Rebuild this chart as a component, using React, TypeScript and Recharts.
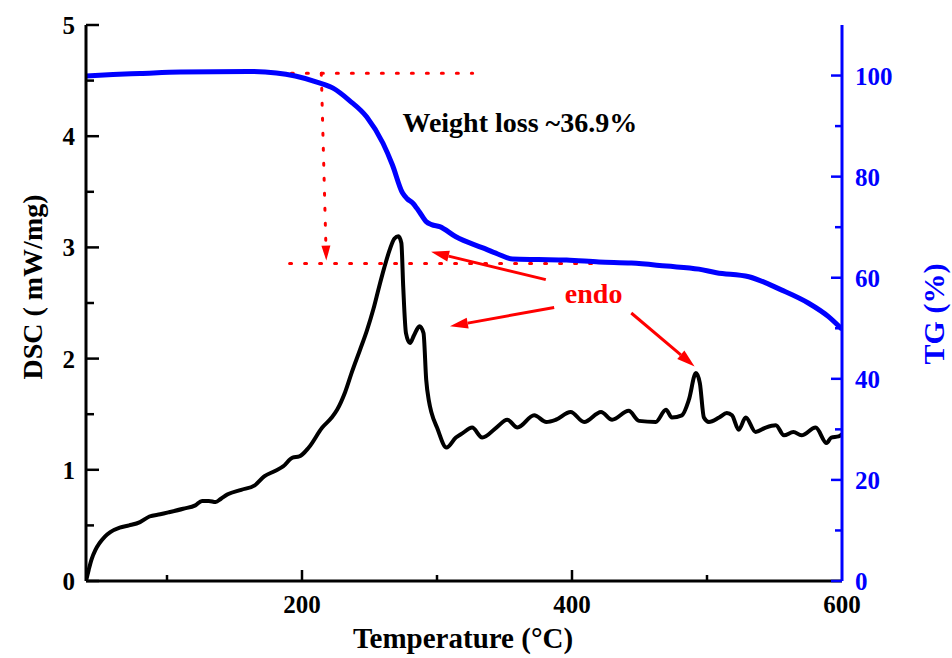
import React from "react";
import {
  LineChart,
  Line,
  XAxis,
  YAxis,
  ReferenceLine,
  ReferenceDot,
} from "recharts";

// DSC curve (temperature °C, mW/mg)
const dscTemp = [
  40, 42, 44, 47, 50, 54, 58, 65, 72, 80, 87, 95, 102, 112, 121, 126, 131, 136, 140, 145,
  155, 165, 172, 180, 186, 193, 198, 205, 215, 222, 226, 232, 237, 243, 248, 253, 257, 261,
  265, 268.5, 271.4, 273.6, 275, 277, 280, 283, 287, 290, 292, 294, 296, 300, 307, 314, 319,
  326, 333.5, 344, 352, 359.6, 372, 381, 388, 399, 409, 421.5, 429.7, 442, 449.6, 462, 469.6,
  474, 481.4, 486.6, 491.8, 494.7, 497.7, 501.4, 509, 514.7, 518.5, 523.5, 528.7, 536, 543.5,
  551, 557, 564, 570, 580.5, 588.6, 592, 597.5, 600,
];
const dscValue = [
  0.0, 0.1, 0.19, 0.28, 0.34, 0.4, 0.44, 0.48, 0.5, 0.53, 0.58, 0.6, 0.62, 0.65, 0.68, 0.72,
  0.72, 0.71, 0.74, 0.78, 0.82, 0.86, 0.94, 0.99, 1.03, 1.11, 1.12, 1.2, 1.38, 1.47, 1.54,
  1.7, 1.88, 2.08, 2.25, 2.45, 2.64, 2.82, 2.98, 3.08, 3.1, 3.04, 2.64, 2.23, 2.14, 2.21, 2.29,
  2.23, 1.81, 1.62, 1.51, 1.38, 1.2, 1.29, 1.33, 1.38, 1.29, 1.38, 1.45, 1.38, 1.49, 1.43,
  1.45, 1.52, 1.43, 1.52, 1.45, 1.53, 1.44, 1.43, 1.54, 1.47, 1.49, 1.63, 1.87, 1.78, 1.47,
  1.43, 1.47, 1.51, 1.49, 1.36, 1.47, 1.34, 1.38, 1.4, 1.31, 1.34, 1.31, 1.38, 1.24, 1.29,
  1.3, 1.32,
];

// TG curve (temperature °C, %)
const tgTemp = [
  40, 60, 80, 110, 160, 181, 195, 211, 223, 235, 248, 260, 267, 274.4, 278, 282, 287, 292,
  296, 302, 314, 334, 345, 356, 375, 396, 420, 444, 470, 494, 507, 531, 555, 575, 590, 600,
];
const tgValue = [
  99.9, 100.2, 100.4, 100.7, 100.8, 100.5, 99.9, 98.7, 97.5, 95.1, 91.8, 86.6, 82.3, 76.8,
  75.6, 74.8, 73.0, 71.1, 70.5, 70.1, 68.1, 65.9, 64.7, 63.7, 63.6, 63.5, 63.1, 62.9, 62.3,
  61.7, 61.0, 60.2, 57.6, 55.0, 52.3, 49.8,
];

const xTicks = [100, 200, 300, 400, 500, 600];
const xLabels = [200, 400, 600];
const dscTicks = [0, 0.5, 1, 1.5, 2, 2.5, 3, 3.5, 4, 4.5, 5];
const tgTicks = [0, 10, 20, 30, 40, 50, 60, 70, 80, 90, 100];
const tgLabels = [0, 20, 40, 60, 80, 100];

// annotation arrows on the DSC axis: [x1, y1, x2, y2]
const endoArrows = [
  [380.6, 2.71, 295.6, 2.96],
  [386.8, 2.46, 309.6, 2.29],
  [443.9, 2.41, 490.8, 1.93],
];
// dotted guide lines on the TG axis
const guideTop = [181, 100.45, 326.4, 100.45];
const guideBottom = [190.8, 62.8, 423.7, 62.8];
const guideDrop = [214.3, 100.45, 218, 63.4];

const dscData = dscTemp.map((t, i) => ({ t, v: dscValue[i] }));
const tgData = tgTemp.map((t, i) => ({ t, v: tgValue[i] }));

const FONT = "'Liberation Serif', 'Times New Roman', serif";
const RED = "#FF0000";
const BLUE = "#0000FF";

const LeftTick = (props: any) => {
  const { x, y, payload } = props;
  const v = payload.value;
  const major = Number.isInteger(v);
  return (
    <g>
      <line x1={x} x2={x + (major ? 13 : 8)} y1={y} y2={y} stroke="#000" strokeWidth={2.5} />
      {major && (
        <text x={x - 11} y={y} dy={9} textAnchor="end" fontFamily={FONT} fontWeight="bold" fontSize={25} fill="#000">
          {v}
        </text>
      )}
    </g>
  );
};

const RightTick = (props: any) => {
  const { x, y, payload } = props;
  const v = payload.value;
  const major = tgLabels.includes(v);
  return (
    <g>
      <line x1={x} x2={x - (major ? 11 : 7)} y1={y} y2={y} stroke={BLUE} strokeWidth={2.5} />
      {major && (
        <text x={x + 13} y={y} dy={9} textAnchor="start" fontFamily={FONT} fontWeight="bold" fontSize={25} fill={BLUE}>
          {v}
        </text>
      )}
    </g>
  );
};

const BottomTick = (props: any) => {
  const { x, y, payload } = props;
  const v = payload.value;
  const major = xLabels.includes(v);
  return (
    <g>
      {v !== 600 && (
        <line x1={x} x2={x} y1={y} y2={y - (major ? 11 : 6)} stroke="#000" strokeWidth={2.5} />
      )}
      {major && (
        <text x={x} y={y + 32} textAnchor="middle" fontFamily={FONT} fontWeight="bold" fontSize={25} fill="#000">
          {v}
        </text>
      )}
    </g>
  );
};

const arrowShape = (head: number, headW: number, width: number, dash?: string) => (p: any) => {
  const { x1, y1, x2, y2 } = p;
  const ang = Math.atan2(y2 - y1, x2 - x1);
  const bx = x2 - head * Math.cos(ang);
  const by = y2 - head * Math.sin(ang);
  const px = (-Math.sin(ang) * headW) / 2;
  const py = (Math.cos(ang) * headW) / 2;
  return (
    <g>
      <line
        x1={x1}
        y1={y1}
        x2={bx}
        y2={by}
        stroke={RED}
        strokeWidth={width}
        strokeDasharray={dash}
        strokeLinecap={dash ? "round" : "butt"}
      />
      <polygon points={`${x2},${y2} ${bx + px},${by + py} ${bx - px},${by - py}`} fill={RED} />
    </g>
  );
};

export default function App() {
  return (
    <div style={{ position: "absolute", left: 0, top: 0, background: "#fff" }}>
      <LineChart width={952} height={658} margin={{ top: 25, right: 0, bottom: 0, left: 0 }}>
        <XAxis
          dataKey="t"
          type="number"
          domain={[40, 600]}
          ticks={xTicks}
          interval={0}
          height={77}
          tickSize={0}
          tickMargin={0}
          tickLine={false}
          tick={<BottomTick />}
          axisLine={{ stroke: "#000", strokeWidth: 3 }}
          allowDataOverflow
          label={{
            content: () => (
              <text x={463} y={648} textAnchor="middle" fontFamily={FONT} fontWeight="bold" fontSize={29} fill="#000">
                Temperature (°C)
              </text>
            ),
          }}
        />
        <XAxis
          xAxisId="top"
          dataKey="t"
          type="number"
          orientation="top"
          domain={[40, 600]}
          height={0}
          tick={false}
          tickLine={false}
          axisLine={{ stroke: "#000", strokeWidth: 3 }}
          allowDataOverflow
        />
        <YAxis
          yAxisId="dsc"
          type="number"
          domain={[0, 5]}
          ticks={dscTicks}
          interval={0}
          width={86}
          tickSize={0}
          tickMargin={0}
          tickLine={false}
          tick={<LeftTick />}
          axisLine={{ stroke: "#000", strokeWidth: 3 }}
          allowDataOverflow
          label={{
            content: () => (
              <text
                x={42}
                y={287}
                textAnchor="middle"
                transform="rotate(-90 42 287)"
                fontFamily={FONT}
                fontWeight="bold"
                fontSize={28}
                fill="#000"
              >
                DSC ( mW/mg)
              </text>
            ),
          }}
        />
        <YAxis
          yAxisId="tg"
          orientation="right"
          type="number"
          domain={[0, 110]}
          ticks={tgTicks}
          interval={0}
          width={110}
          tickSize={0}
          tickMargin={0}
          tickLine={false}
          tick={<RightTick />}
          axisLine={{ stroke: BLUE, strokeWidth: 3 }}
          allowDataOverflow
          label={{
            content: () => (
              <text
                x={944}
                y={314}
                textAnchor="middle"
                transform="rotate(-90 944 314)"
                fontFamily={FONT}
                fontWeight="bold"
                fontSize={30}
                fill={BLUE}
              >
                TG (%)
              </text>
            ),
          }}
        />

        <ReferenceLine
          yAxisId="tg"
          segment={[{ x: guideTop[0], y: guideTop[1] }, { x: guideTop[2], y: guideTop[3] }]}
          stroke={RED}
          strokeWidth={3}
          strokeDasharray="2 13"
          strokeLinecap="round"
        />
        <ReferenceLine
          yAxisId="tg"
          segment={[{ x: guideBottom[0], y: guideBottom[1] }, { x: guideBottom[2], y: guideBottom[3] }]}
          stroke={RED}
          strokeWidth={3}
          strokeDasharray="2 13"
          strokeLinecap="round"
        />
        <ReferenceLine
          yAxisId="tg"
          segment={[{ x: guideDrop[0], y: guideDrop[1] }, { x: guideDrop[2], y: guideDrop[3] }]}
          shape={arrowShape(15, 9, 3, "2 13")}
        />

        <Line
          yAxisId="tg"
          data={tgData}
          dataKey="v"
          type="monotone"
          stroke={BLUE}
          strokeWidth={5}
          dot={false}
          activeDot={false}
          isAnimationActive={false}
        />
        <Line
          yAxisId="dsc"
          data={dscData}
          dataKey="v"
          type="monotone"
          stroke="#000"
          strokeWidth={4}
          dot={false}
          activeDot={false}
          isAnimationActive={false}
        />

        {endoArrows.map((a, i) => (
          <ReferenceLine
            key={i}
            yAxisId="dsc"
            segment={[{ x: a[0], y: a[1] }, { x: a[2], y: a[3] }]}
            shape={arrowShape(18, 11, 3)}
          />
        ))}

        <ReferenceDot
          yAxisId="tg"
          x={274.4}
          y={88.9}
          r={0}
          shape={(p: any) => (
            <text x={p.cx} y={p.cy} fontFamily={FONT} fontWeight="bold" fontSize={28} fill="#000">
              Weight loss ~36.9%
            </text>
          )}
        />
        <ReferenceDot
          yAxisId="dsc"
          x={394.7}
          y={2.497}
          r={0}
          shape={(p: any) => (
            <text x={p.cx} y={p.cy} fontFamily={FONT} fontWeight="bold" fontSize={28} fill={RED}>
              endo
            </text>
          )}
        />
      </LineChart>
    </div>
  );
}
